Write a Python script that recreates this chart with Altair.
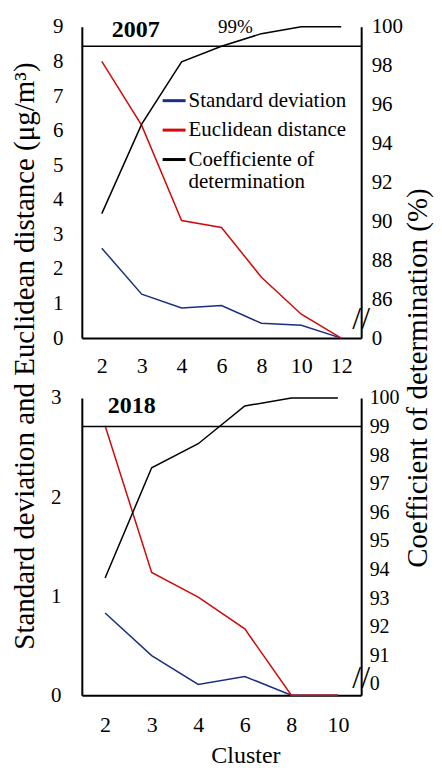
import altair as alt
import pandas as pd

FONT = "Liberation Serif, Times New Roman, DejaVu Serif, serif"

# ---- data ----
clusters_2007 = ["2", "3", "4", "6", "8", "10", "12"]
sd_2007 = [2.6, 1.27, 0.87, 0.94, 0.43, 0.37, 0.0]
ed_2007 = [8.0, 6.15, 3.4, 3.2, 1.76, 0.69, 0.0]
cod_2007 = [90.4, 95.0, 98.2, 99.0, 99.65, 100.0, 100.0]

clusters_2018 = ["2", "3", "4", "6", "8", "10"]
sd_2018 = [0.83, 0.40, 0.11, 0.19, 0.0, 0.0]
ed_2018 = [2.72, 1.24, 0.99, 0.67, 0.0, 0.0]
cod_2018 = [93.7, 97.56, 98.4, 99.72, 100.0, 100.0]

SERIES = ["Standard deviation", "Euclidean distance", "Coefficiente of determination"]
COLORS = ["#1b2f7e", "#d10a0a", "#000000"]

left_ticks_2007 = list(range(0, 10))
right_ticks_2007 = [84, 86, 88, 90, 92, 94, 96, 98, 100]
left_ticks_2018 = [0, 1, 2, 3]
right_ticks_2018 = list(range(90, 101))

LEFT_TITLE = "Standard deviation  and Euclidean distance (\u03bcg/m\u00b3)"
RIGHT_TITLE = "Coefficient of determination (%)"


def make_panel(year, clusters, sd, ed, cod, ldom, lticks, rdom, rticks,
               show_legend, x_lab_pad, l_lab_pad, r_lab_pad, r_font, year_xy, brk_val,
               x_title=None, extra=None):
    n = len(clusters)
    df_lr = pd.DataFrame({
        "cluster": clusters * 2,
        "value": sd + ed,
        "series": [SERIES[0]] * n + [SERIES[1]] * n,
    })
    df_cod = pd.DataFrame({"cluster": clusters, "value": cod, "series": [SERIES[2]] * n})

    axis_kw = dict(labelAngle=0, ticks=False, labelPadding=x_lab_pad, labelFontSize=22,
                   labelFont=FONT, labelColor="black", domainColor="black", domainWidth=2,
                   grid=False)
    if x_title:
        xaxis = alt.Axis(**axis_kw, title=x_title, titleFont=FONT, titleFontSize=24,
                         titleFontWeight="normal", titleColor="black",
                         titleX=164, titleY=60, titleBaseline="middle", titleAlign="center")
    else:
        xaxis = alt.Axis(**axis_kw, title=None)
    x = alt.X("cluster:O", sort=clusters, scale=alt.Scale(type="point", padding=0.5), axis=xaxis)

    if show_legend:
        legend = alt.Legend(
            orient="none", legendX=82, legendY=63.5, title=None,
            labelFont=FONT, labelFontSize=21, labelColor="black", labelLimit=400,
            labelBaseline="middle", labelOffset=4,
            labelExpr="datum.label == 'Coefficiente of determination' ? ['Coefficiente of', 'determination'] : datum.label",
            symbolType="M-2.3,0L2.3,0", symbolSize=100, symbolStrokeWidth=3, rowPadding=7.5,
        )
    else:
        legend = None
    color = alt.Color("series:N", scale=alt.Scale(domain=SERIES, range=COLORS), legend=legend)

    yl = alt.Y("value:Q", scale=alt.Scale(domain=ldom, nice=False, zero=False),
               axis=alt.Axis(values=lticks, ticks=False, labelPadding=l_lab_pad, labelFontSize=21,
                             labelFont=FONT, labelColor="black", domainColor="black", domainWidth=2,
                             grid=False, title=None))
    yr = alt.Y("value:Q", scale=alt.Scale(domain=rdom, nice=False, zero=False),
               axis=alt.Axis(orient="right", values=rticks, ticks=False, labelPadding=r_lab_pad,
                             labelFontSize=r_font, labelFont=FONT, labelColor="black",
                             domainColor="black", domainWidth=2, grid=False, title=None,
                             labelOverlap=False,
                             labelExpr=f"datum.value == {rticks[0]} ? '0' : datum.label"))

    left_lines = alt.Chart(df_lr).mark_line(strokeWidth=1.5).encode(x=x, y=yl, color=color)
    cod_line = alt.Chart(df_cod).mark_line(strokeWidth=1.5).encode(x=x, y=yr, color=color)
    rule99 = alt.Chart(pd.DataFrame({"value": [99]})).mark_rule(color="black", strokeWidth=1.5).encode(y=yr)
    brk = alt.Chart(pd.DataFrame({"value": [brk_val]})).mark_text(
        text="//", font=FONT, fontSize=32, align="center", baseline="middle", color="black"
    ).encode(x=alt.value(280), y=yr)
    right_layers = [cod_line, rule99, brk]
    if extra is not None:
        right_layers.append(extra)
    right = alt.layer(*right_layers)

    yr_txt = alt.Chart(pd.DataFrame({"t": [year]})).mark_text(
        font=FONT, fontSize=24, fontWeight="bold", align="left", baseline="middle", color="black"
    ).encode(text="t:N", x=alt.value(year_xy[0]), y=alt.value(year_xy[1]))

    return [left_lines, right, yr_txt]


# 99% annotation (top panel)
txt99 = alt.Chart(pd.DataFrame({"t": ["99%"]})).mark_text(
    font=FONT, fontSize=19, align="center", baseline="middle", color="black"
).encode(text="t:N", x=alt.value(154), y=alt.value(0))

left_title = alt.Chart(pd.DataFrame({"t": [LEFT_TITLE]})).mark_text(
    font=FONT, fontSize=29, angle=270, align="center", baseline="middle", color="black"
).encode(text="t:N", x=alt.value(-57), y=alt.value(330))

right_title = alt.Chart(pd.DataFrame({"t": [RIGHT_TITLE]})).mark_text(
    font=FONT, fontSize=29, angle=270, align="center", baseline="middle", color="black"
).encode(text="t:N", x=alt.value(337), y=alt.value(352))

top_layers = make_panel("2007", clusters_2007, sd_2007, ed_2007, cod_2007,
                        [0, 9], left_ticks_2007, [84, 100], right_ticks_2007,
                        True, 17, 19, 10, 21, (30, 3), 85.0, extra=txt99)
top = alt.layer(*top_layers, left_title, right_title).resolve_scale(y="independent").properties(
    width=280, height=312)

bot_layers = make_panel("2018", clusters_2018, sd_2018, ed_2018, cod_2018,
                        [0, 3], left_ticks_2018, [89.6, 100], right_ticks_2018,
                        False, 19, 21, 8, 20, (26, 8), 90.2, x_title="Cluster")
bottom = alt.layer(*bot_layers).resolve_scale(y="independent").properties(width=280, height=298)

chart = alt.vconcat(top, bottom, spacing=60, bounds="flush").resolve_scale(
    color="independent"
).properties(
    padding={"left": 2, "top": 7, "right": 0, "bottom": 0}
).configure_view(stroke=None)

chart.save("out.html", embed_options={"renderer": "svg", "actions": False})
